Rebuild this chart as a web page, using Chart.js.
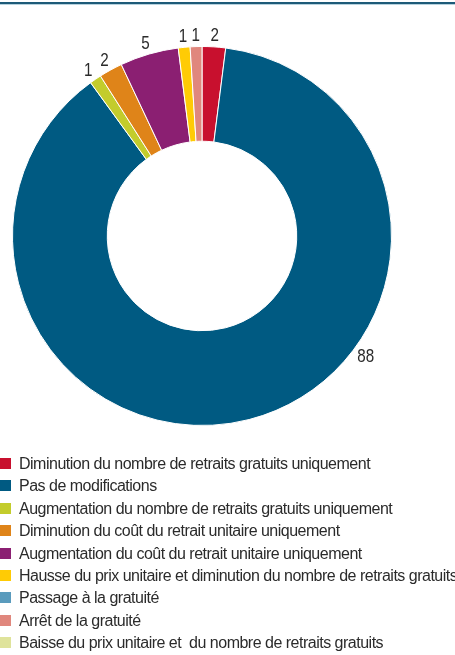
<!DOCTYPE html>
<html>
<head>
<meta charset="utf-8">
<script src="https://cdn.jsdelivr.net/npm/chart.js@4/dist/chart.umd.min.js"></script>
<style>
  html, body { margin: 0; padding: 0; background: #fff; }
  body { width: 455px; height: 655px; position: relative; overflow: hidden;
         font-family: "Liberation Sans", Arial, sans-serif; }
  .topline { position: absolute; left: 0; top: 2px; width: 455px; height: 2px;
             background: #1d5a78; border-bottom: 1px solid #b6d2de; }
  #wrap { position: absolute; left: 0; top: 0; width: 404px; height: 472px; }
  #legend { position: absolute; left: 0; top: 455px; width: 470px; margin: 0; padding: 0;
            list-style: none; white-space: pre; }
  #legend li { height: 22.4px; line-height: 18px; font-size: 16px; letter-spacing: -0.5px;
               color: #2b2b2b; position: relative; padding-left: 19px; }
  #legend li span { position: absolute; left: 0; top: 3px; width: 11px; height: 11px; }
</style>
</head>
<body>
<div class="topline"></div>
<div id="wrap"><canvas id="donut" width="404" height="472"></canvas></div>
<ul id="legend"></ul>
<script>
'use strict';

/* ── DATA ── */
const categories = [
  'Diminution du nombre de retraits gratuits uniquement',
  'Pas de modifications',
  'Augmentation du nombre de retraits gratuits uniquement',
  'Diminution du coût du retrait unitaire uniquement',
  'Augmentation du coût du retrait unitaire uniquement',
  'Hausse du prix unitaire et diminution du nombre de retraits gratuits',
  'Passage à la gratuité',
  'Arrêt de la gratuité',
  'Baisse du prix unitaire et  du nombre de retraits gratuits'
];
const values = [2, 88, 1, 2, 5, 1, 0, 1, 0];
const colors = ['#c8102e', '#005a82', '#c3cc2c', '#df8419', '#8b1f72',
                '#ffcb05', '#5a9bbd', '#e0877d', '#dfe39b'];

/* ── VALUE LABELS outside the ring ── */
const outsideLabels = {
  id: 'outsideLabels',
  afterDatasetsDraw(chart) {
    const ctx = chart.ctx;
    const meta = chart.getDatasetMeta(0);
    ctx.save();
    ctx.font = '19px "Liberation Sans", Arial, sans-serif';
    ctx.fillStyle = '#2b2b2b';
    ctx.textAlign = 'center';
    ctx.textBaseline = 'middle';
    meta.data.forEach((arc, i) => {
      if (!values[i]) return;
      const p = arc.getProps(['x', 'y', 'startAngle', 'endAngle', 'outerRadius'], true);
      let a = (p.startAngle + p.endAngle) / 2;
      // big slice: label sits on the lower right of the ring
      if (p.endAngle - p.startAngle > Math.PI) a = p.startAngle + Math.PI * 0.66;
      const r = p.outerRadius + 13;
      ctx.save();
      ctx.translate(p.x + Math.cos(a) * r, p.y + Math.sin(a) * r + 2);
      ctx.scale(0.8, 1);   // condensed look
      ctx.fillText(String(values[i]), 0, 0);
      ctx.restore();
    });
    ctx.restore();
  }
};

new Chart(document.getElementById('donut'), {
  type: 'doughnut',
  data: {
    labels: categories,
    datasets: [{
      data: values,
      backgroundColor: colors,
      borderColor: '#ffffff',
      borderWidth: 1
    }]
  },
  options: {
    responsive: false,
    animation: false,
    cutout: '50%',
    layout: { padding: { left: 12, right: 12, top: 46, bottom: 46 } },
    plugins: { legend: { display: false }, tooltip: { enabled: false } }
  },
  plugins: [outsideLabels]
});

/* ── LEGEND ── */
const legend = document.getElementById('legend');
categories.forEach((c, i) => {
  const li = document.createElement('li');
  const sw = document.createElement('span');
  sw.style.background = colors[i];
  li.appendChild(sw);
  li.appendChild(document.createTextNode(c));
  legend.appendChild(li);
});
</script>
</body>
</html>
